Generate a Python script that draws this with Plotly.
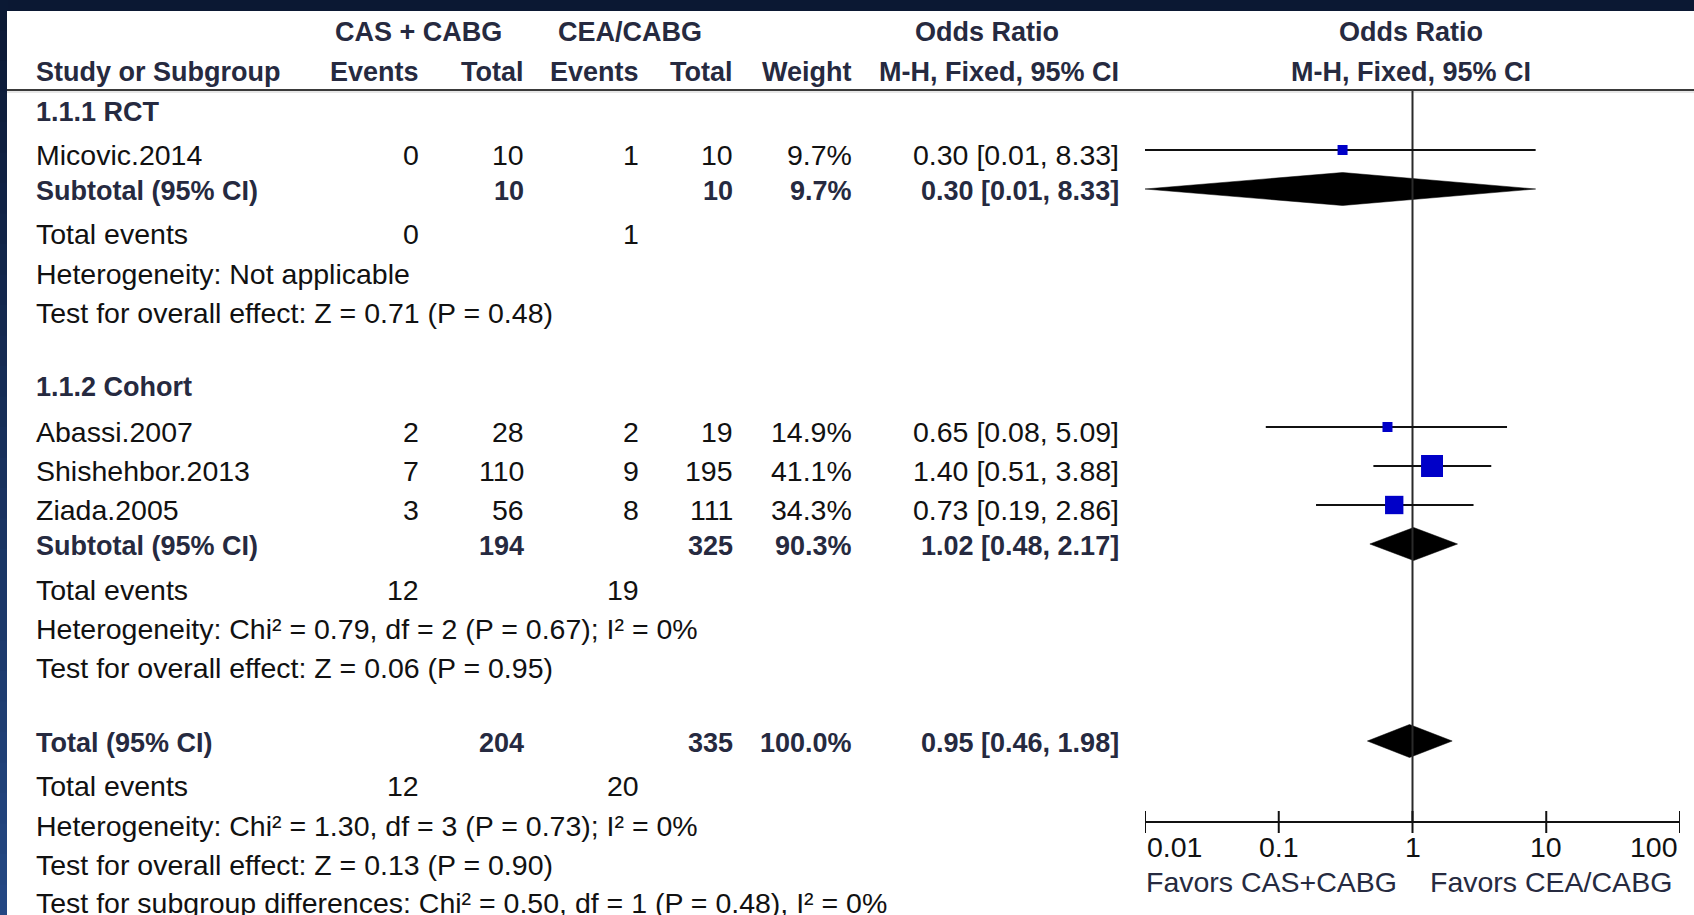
import math
import plotly.graph_objects as go

W, H = 1694, 915

# ---------------- data ----------------
group_titles = ["1.1.1 RCT", "1.1.2 Cohort"]

study_names = ["Micovic.2014", "Abassi.2007", "Shishehbor.2013", "Ziada.2005"]
study_group = [0, 1, 1, 1]
cas_events = [0, 2, 7, 3]
cas_total = [10, 28, 110, 56]
cea_events = [1, 2, 9, 8]
cea_total = [10, 19, 195, 111]
study_weight = [9.7, 14.9, 41.1, 34.3]
study_or = [0.30, 0.65, 1.40, 0.73]
study_low = [0.01, 0.08, 0.51, 0.19]
study_high = [8.33, 5.09, 3.88, 2.86]

sub_cas_total = [10, 194]
sub_cea_total = [10, 325]
sub_weight = [9.7, 90.3]
sub_or = [0.30, 1.02]
sub_low = [0.01, 0.48]
sub_high = [8.33, 2.17]
sub_cas_events = [0, 12]
sub_cea_events = [1, 19]
sub_heterogeneity = [
    "Heterogeneity: Not applicable",
    "Heterogeneity: Chi² = 0.79, df = 2 (P = 0.67); I² = 0%",
]
sub_overall = [
    "Test for overall effect: Z = 0.71 (P = 0.48)",
    "Test for overall effect: Z = 0.06 (P = 0.95)",
]

total_cas_total = 204
total_cea_total = 335
total_weight = 100.0
total_or = 0.95
total_low = 0.46
total_high = 1.98
total_cas_events = 12
total_cea_events = 20
total_heterogeneity = "Heterogeneity: Chi² = 1.30, df = 3 (P = 0.73); I² = 0%"
total_overall = "Test for overall effect: Z = 0.13 (P = 0.90)"
subgroup_differences = "Test for subgroup differences: Chi² = 0.50, df = 1 (P = 0.48), I² = 0%"

null_value = 1
tick_values = [0.01, 0.1, 1, 10, 100]
tick_labels = ["0.01", "0.1", "1", "10", "100"]
favors_left = "Favors CAS+CABG"
favors_right = "Favors CEA/CABG"

# ---------------- layout constants (pixels) ----------------
FONT = "Liberation Sans, Arial, sans-serif"
BOLD_SIZE = 27
REG_SIZE = 28.5
BOLD_COLOR = "#262a40"
REG_COLOR = "#111111"
MARK_BLUE = "#0000c8"

COL_STUDY = 34
COL_CAS_EV = 421
COL_CAS_TOT = 526
COL_CEA_EV = 641
COL_CEA_TOT = 735
COL_WEIGHT = 854
COL_OR = 1121
COL_PLOT_CENTER = 1411

HEAD1_Y = 32
HEAD2_Y = 72
RULE_Y = 90
AXIS_Y = 822
TICK_LABEL_Y = 847
FAVORS_Y = 882

group_rows = [
    dict(title=112, studies=[155], subtotal=191, events=234, het=274, overall=313),
    dict(title=387, studies=[432, 471, 510], subtotal=546, events=590, het=629, overall=668),
]
TOTAL_ROW, TOTAL_EV_ROW, TOTAL_HET_ROW, TOTAL_OV_ROW, DIFF_ROW = 743, 786, 826, 865, 903
STUDY_MARK_SHIFT = -5
DIAMOND_SHIFT = -2
DIAMOND_HALF = 16.5

annotations = []


def px(x):
    return x / W


def label(text, x, y, anchor="left", bold=False, size=None, color=None):
    annotations.append(dict(
        text=text, x=px(x), y=y, xref="paper", yref="y",
        xanchor=anchor, yanchor="middle", showarrow=False,
        font=dict(family=FONT, size=size or (BOLD_SIZE if bold else REG_SIZE),
                  color=color or (BOLD_COLOR if bold else REG_COLOR),
                  weight="bold" if bold else "normal"),
    ))


def ci_text(o, lo, hi):
    return f"{o:.2f} [{lo:.2f}, {hi:.2f}]"


# column headings
label("CAS + CABG", 418, HEAD1_Y, "center", bold=True)
label("CEA/CABG", 630, HEAD1_Y, "center", bold=True)
label("Odds Ratio", 987, HEAD1_Y, "center", bold=True)
label("Odds Ratio", COL_PLOT_CENTER, HEAD1_Y, "center", bold=True)
label("Study or Subgroup", COL_STUDY, HEAD2_Y, "left", bold=True)
label("Events", COL_CAS_EV, HEAD2_Y, "right", bold=True)
label("Total", COL_CAS_TOT, HEAD2_Y, "right", bold=True)
label("Events", COL_CEA_EV, HEAD2_Y, "right", bold=True)
label("Total", COL_CEA_TOT, HEAD2_Y, "right", bold=True)
label("Weight", COL_WEIGHT, HEAD2_Y, "right", bold=True)
label("M-H, Fixed, 95% CI", COL_OR, HEAD2_Y, "right", bold=True)
label("M-H, Fixed, 95% CI", COL_PLOT_CENTER, HEAD2_Y, "center", bold=True)

fig = go.Figure()

ci_x, ci_y = [], []
sq_x, sq_y, sq_size = [], [], []


def add_diamond(o, lo, hi, yc):
    fig.add_trace(go.Scatter(
        x=[lo, o, hi, o, lo],
        y=[yc, yc - DIAMOND_HALF, yc, yc + DIAMOND_HALF, yc],
        mode="lines", fill="toself", fillcolor="#000000",
        line=dict(width=0.5, color="#000000"), hoverinfo="skip", showlegend=False,
    ))


for g, rows in enumerate(group_rows):
    label(group_titles[g], COL_STUDY, rows["title"], bold=True)
    members = [i for i, sg in enumerate(study_group) if sg == g]
    for i, yrow in zip(members, rows["studies"]):
        label(study_names[i], COL_STUDY, yrow)
        label(str(cas_events[i]), COL_CAS_EV, yrow, "right")
        label(str(cas_total[i]), COL_CAS_TOT, yrow, "right")
        label(str(cea_events[i]), COL_CEA_EV, yrow, "right")
        label(str(cea_total[i]), COL_CEA_TOT, yrow, "right")
        label(f"{study_weight[i]:.1f}%", COL_WEIGHT, yrow, "right")
        label(ci_text(study_or[i], study_low[i], study_high[i]), COL_OR, yrow, "right")
        ym = yrow + STUDY_MARK_SHIFT
        ci_x += [study_low[i], study_high[i], None]
        ci_y += [ym, ym, None]
        sq_x.append(study_or[i])
        sq_y.append(ym)
        sq_size.append(max(10, 0.535 * study_weight[i]))

    ys = rows["subtotal"]
    label("Subtotal (95% CI)", COL_STUDY, ys, bold=True)
    label(str(sub_cas_total[g]), COL_CAS_TOT, ys, "right", bold=True)
    label(str(sub_cea_total[g]), COL_CEA_TOT, ys, "right", bold=True)
    label(f"{sub_weight[g]:.1f}%", COL_WEIGHT, ys, "right", bold=True)
    label(ci_text(sub_or[g], sub_low[g], sub_high[g]), COL_OR, ys, "right", bold=True)
    add_diamond(sub_or[g], sub_low[g], sub_high[g], ys + DIAMOND_SHIFT)

    label("Total events", COL_STUDY, rows["events"])
    label(str(sub_cas_events[g]), COL_CAS_EV, rows["events"], "right")
    label(str(sub_cea_events[g]), COL_CEA_EV, rows["events"], "right")
    label(sub_heterogeneity[g], COL_STUDY, rows["het"])
    label(sub_overall[g], COL_STUDY, rows["overall"])

# overall pooled rows
label("Total (95% CI)", COL_STUDY, TOTAL_ROW, bold=True)
label(str(total_cas_total), COL_CAS_TOT, TOTAL_ROW, "right", bold=True)
label(str(total_cea_total), COL_CEA_TOT, TOTAL_ROW, "right", bold=True)
label(f"{total_weight:.1f}%", COL_WEIGHT, TOTAL_ROW, "right", bold=True)
label(ci_text(total_or, total_low, total_high), COL_OR, TOTAL_ROW, "right", bold=True)
add_diamond(total_or, total_low, total_high, TOTAL_ROW + DIAMOND_SHIFT)
label("Total events", COL_STUDY, TOTAL_EV_ROW)
label(str(total_cas_events), COL_CAS_EV, TOTAL_EV_ROW, "right")
label(str(total_cea_events), COL_CEA_EV, TOTAL_EV_ROW, "right")
label(total_heterogeneity, COL_STUDY, TOTAL_HET_ROW)
label(total_overall, COL_STUDY, TOTAL_OV_ROW)
label(subgroup_differences, COL_STUDY, DIFF_ROW)

# line of no effect
fig.add_trace(go.Scatter(
    x=[null_value, null_value], y=[RULE_Y + 1, AXIS_Y], mode="lines",
    line=dict(color="#2a2a2a", width=2), hoverinfo="skip", showlegend=False,
))

# confidence intervals and study squares
fig.add_trace(go.Scatter(
    x=ci_x, y=ci_y, mode="lines", line=dict(color="#111111", width=2),
    hoverinfo="skip", showlegend=False,
))
fig.add_trace(go.Scatter(
    x=sq_x, y=sq_y, mode="markers",
    marker=dict(symbol="square", color=MARK_BLUE, size=sq_size, opacity=1,
                line=dict(width=0)),
    hoverinfo="skip", showlegend=False, cliponaxis=False,
))

# log axis drawn by hand along the bottom
tx, ty = [], []
for t in tick_values:
    tx += [t, t, None]
    ty += [AXIS_Y - 11, AXIS_Y + 11, None]
fig.add_trace(go.Scatter(
    x=[tick_values[0], tick_values[-1]], y=[AXIS_Y, AXIS_Y], mode="lines",
    line=dict(color="#111111", width=2), hoverinfo="skip", showlegend=False,
))
fig.add_trace(go.Scatter(
    x=tx, y=ty, mode="lines", line=dict(color="#111111", width=2),
    hoverinfo="skip", showlegend=False, cliponaxis=False,
))
# annotations on a log axis take log10 positions
for k, (t, s) in enumerate(zip(tick_values, tick_labels)):
    anchor = "left" if k == 0 else ("right" if k == len(tick_values) - 1 else "center")
    annotations.append(dict(
        text=s, x=math.log10(t), y=TICK_LABEL_Y, xref="x", yref="y",
        xanchor=anchor, yanchor="middle", showarrow=False,
        font=dict(family=FONT, size=REG_SIZE, color=REG_COLOR),
    ))
annotations.append(dict(
    text=favors_left, x=math.log10(null_value), y=FAVORS_Y, xref="x", yref="y",
    xanchor="right", xshift=-14, yanchor="middle", showarrow=False,
    font=dict(family=FONT, size=REG_SIZE, color=BOLD_COLOR),
))
annotations.append(dict(
    text=favors_right, x=math.log10(null_value), y=FAVORS_Y, xref="x", yref="y",
    xanchor="left", xshift=15, yanchor="middle", showarrow=False,
    font=dict(family=FONT, size=REG_SIZE, color=BOLD_COLOR),
))

# frame: dark slide border with a vertical gradient on the left, white panel
shapes = []
top_rgb = (11, 24, 51)
bot_rgb = (36, 72, 132)
bands = 30
for b in range(bands):
    f = (b + 0.5) / bands
    c = tuple(round(top_rgb[j] + (bot_rgb[j] - top_rgb[j]) * f) for j in range(3))
    shapes.append(dict(
        type="rect", xref="paper", yref="y", x0=0, x1=px(8),
        y0=H * b / bands, y1=H * (b + 1) / bands + 1,
        fillcolor=f"rgb{c}", line=dict(width=0), layer="below",
    ))
shapes.append(dict(
    type="rect", xref="paper", yref="y", x0=px(7), x1=1, y0=11, y1=H,
    fillcolor="#ffffff", line=dict(width=0), layer="below",
))
shapes.append(dict(
    type="line", xref="paper", yref="y", x0=px(7), x1=1, y0=RULE_Y, y1=RULE_Y,
    line=dict(color="#3a3a3a", width=2), layer="below",
))
shapes.append(dict(
    type="line", xref="paper", yref="y", x0=px(7), x1=1, y0=RULE_Y + 2, y1=RULE_Y + 2,
    line=dict(color="#cfcfcf", width=1), layer="below",
))

fig.update_layout(
    width=W, height=H,
    margin=dict(l=0, r=0, t=0, b=0),
    paper_bgcolor="#0b1833",
    plot_bgcolor="rgba(0,0,0,0)",
    xaxis=dict(type="log", range=[-2, 2], domain=[px(1145), px(1680)],
               visible=False, fixedrange=True),
    yaxis=dict(range=[H, 0], domain=[0, 1], visible=False, fixedrange=True),
    shapes=shapes,
    annotations=annotations,
    showlegend=False,
)

fig.write_html("out.html")
